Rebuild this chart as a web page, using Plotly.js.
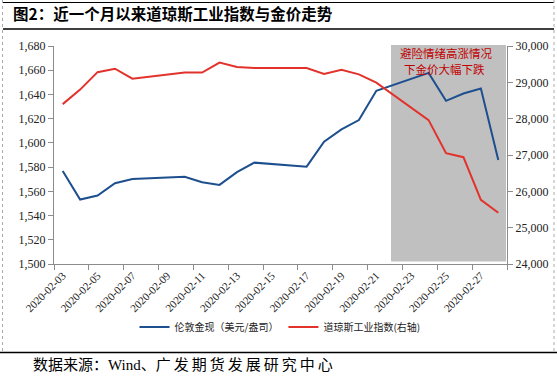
<!DOCTYPE html>
<html><head><meta charset="utf-8">
<script src="https://cdn.plot.ly/plotly-3.0.1.min.js"></script>
<style>html,body{margin:0;padding:0;background:#fff}#chart{width:557px;height:381px}</style>
</head><body><div id="chart"></div>
<script>
// ---- data ----
const dates = ['2020-02-03','2020-02-04','2020-02-05','2020-02-06','2020-02-07',
               '2020-02-10','2020-02-11','2020-02-12','2020-02-13','2020-02-14',
               '2020-02-17','2020-02-18','2020-02-19','2020-02-20','2020-02-21',
               '2020-02-24','2020-02-25','2020-02-26','2020-02-27','2020-02-28'];
const goldPrice = [1576.8,1553.2,1556.5,1566.7,1570.2,
                   1572.1,1567.5,1565.3,1575.8,1583.7,
                   1580.4,1601.0,1611.2,1618.8,1643.0,
                   1657.8,1634.7,1640.8,1644.9,1585.9];
const dowIndex = [28400,28800,29280,29375,29100,
                  29270,29270,29545,29420,29395,
                  29395,29232,29348,29220,28992,
                  27961,27050,26940,25767,25410];
const xTickLabels = ['2020-02-03','2020-02-05','2020-02-07','2020-02-09','2020-02-11','2020-02-13',
                     '2020-02-15','2020-02-17','2020-02-19','2020-02-21','2020-02-23','2020-02-25','2020-02-27'];
const goldName = '伦敦金现（美元/盎司）';
const dowName = '道琼斯工业指数(右轴)';
const titleText = '图2：近一个月以来道琼斯工业指数与金价走势';
const noteLine1 = '避险情绪高涨情况';
const noteLine2 = '下金价大幅下跌';
const sourceHead = '数据来源：Wind、';
const sourceTail = '广发期货发展研究中心';

// ---- layout helpers ----
const W = 557, H = 381, L = 54, R = 50, T = 46, B = 117;
const pw = W - L - R, ph = H - T - B;
const px = x => (x - L) / pw;
const py = y => (H - B - y) / ph;

const serif = 'Liberation Serif, Times New Roman, serif';
const cjk = 'Noto Sans CJK SC, sans-serif';
const axisColor = '#8c8c8c';

const traces = [
  {x: dates, y: goldPrice, name: goldName, type: 'scatter', mode: 'lines',
   line: {color: '#1d4f8f', width: 2}, yaxis: 'y'},
  {x: dates, y: dowIndex, name: dowName, type: 'scatter', mode: 'lines',
   line: {color: '#e2322b', width: 2}, yaxis: 'y2'}
];

const layout = {
  width: W, height: H,
  margin: {l: L, r: R, t: T, b: B, pad: 0},
  paper_bgcolor: '#fff', plot_bgcolor: 'rgba(0,0,0,0)',
  showlegend: true,
  title: {text: titleText, font: {family: cjk, size: 15.5, color: '#000', weight: 'bold'},
          x: 13 / W, xanchor: 'left', xref: 'container', y: 1 - 15 / H, yanchor: 'middle', yref: 'container'},
  xaxis: {
    type: 'date', range: ['2020-02-02 12:00', '2020-02-28 12:00'],
    tickmode: 'array', tickvals: xTickLabels, ticktext: xTickLabels,
    ticks: '', tickangle: -45, showgrid: false, zeroline: false,
    showline: true, linecolor: axisColor, linewidth: 1,
    tickfont: {family: serif, size: 11, color: '#222'},
    minor: {ticks: 'outside', ticklen: 5, tickcolor: axisColor, tickwidth: 1,
            tick0: '2020-02-02 12:00', dtick: 2 * 86400000, showgrid: false}
  },
  yaxis: {
    range: [1500, 1680], dtick: 20, tick0: 1500, tickformat: ',d',
    ticks: 'outside', ticklen: 5, tickcolor: axisColor, showgrid: false, zeroline: false,
    showline: true, linecolor: axisColor, linewidth: 1,
    tickfont: {family: serif, size: 12, color: '#222'}
  },
  yaxis2: {
    range: [24000, 30000], dtick: 1000, tick0: 24000, tickformat: ',d',
    overlaying: 'y', side: 'right',
    ticks: 'outside', ticklen: 5, tickcolor: axisColor, showgrid: false, zeroline: false,
    showline: true, linecolor: axisColor, linewidth: 1,
    tickfont: {family: serif, size: 12, color: '#222'}
  },
  legend: {orientation: 'h', x: px(280), xanchor: 'center', y: py(327), yanchor: 'middle',
           font: {family: cjk, size: 10, color: '#222'}, bgcolor: 'rgba(0,0,0,0)'},
  shapes: [
    {type: 'rect', xref: 'paper', yref: 'paper', x0: px(391), x1: px(506), y0: py(261.5), y1: py(45),
     fillcolor: '#c0c0c0', line: {width: 0}, layer: 'below'},
    {type: 'line', xref: 'paper', yref: 'paper', x0: px(3), x1: px(554), y0: py(2.5), y1: py(2.5), line: {color: '#000', width: 1}},
    {type: 'line', xref: 'paper', yref: 'paper', x0: px(3), x1: px(554), y0: py(29), y1: py(29), line: {color: '#000', width: 1.5}},
    {type: 'line', xref: 'paper', yref: 'paper', x0: px(0), x1: px(557), y0: py(352.5), y1: py(352.5), line: {color: '#000', width: 1.5}},
    {type: 'line', xref: 'paper', yref: 'paper', x0: px(2.5), x1: px(2.5), y0: py(0), y1: py(352), line: {color: '#aaa', width: 1, dash: 'dot'}},
    {type: 'line', xref: 'paper', yref: 'paper', x0: px(554), x1: px(554), y0: py(0), y1: py(352), line: {color: '#aaa', width: 1, dash: 'dot'}}
  ],
  annotations: [
    {text: noteLine1, xref: 'paper', yref: 'paper', x: px(445.5), y: py(53.5), xanchor: 'center', yanchor: 'middle',
     showarrow: false, borderpad: 0, font: {family: cjk, size: 11.5, color: '#c00000'}},
    {text: noteLine2, xref: 'paper', yref: 'paper', x: px(444), y: py(68.5), xanchor: 'center', yanchor: 'middle',
     showarrow: false, borderpad: 0, font: {family: cjk, size: 11.5, color: '#c00000'}},
    {text: sourceHead + '<span style="letter-spacing:3px">' + sourceTail + '</span>', xref: 'paper', yref: 'paper',
     x: px(31), y: py(365), xanchor: 'left', yanchor: 'middle',
     showarrow: false, font: {family: 'Liberation Serif, Noto Sans CJK SC, serif', size: 15, color: '#000'}}
  ]
};

Plotly.newPlot('chart', traces, layout, {displayModeBar: false, staticPlot: true});
</script>
</body></html>
